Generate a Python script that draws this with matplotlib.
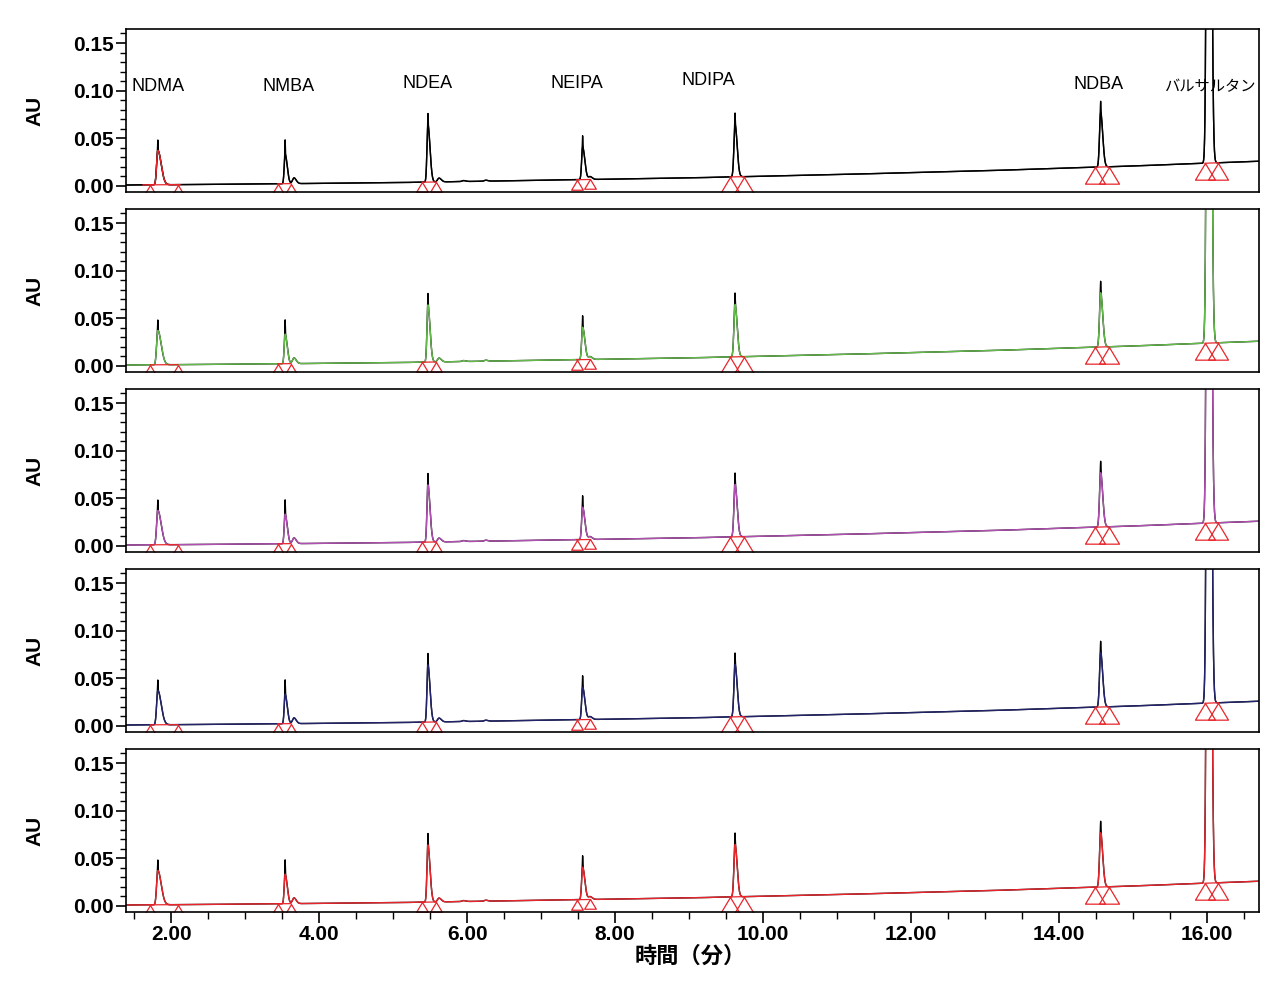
import numpy as np
import matplotlib
matplotlib.use("Agg")
import matplotlib.pyplot as plt
from matplotlib.path import Path
from matplotlib.ticker import MultipleLocator, FormatStrFormatter

plt.rcParams['font.family'] = ['Liberation Sans', 'Noto Sans CJK JP', 'DejaVu Sans']

# peaks (retention time in min, heights in AU)
names = ["NDMA", "NMBA", "NDEA", "NEIPA", "NDIPA", "NDBA", "バルサルタン"]
rt = [1.82, 3.54, 5.47, 7.56, 9.62, 14.56, 16.02]
tipHeight = [0.047, 0.046, 0.072, 0.046, 0.067, 0.069, 1.25]
bodyHeight = [0.036, 0.031, 0.060, 0.034, 0.055, 0.057, 1.20]
sigFront = [0.016, 0.012, 0.013, 0.013, 0.015, 0.015, 0.020]
sigBack = [0.045, 0.028, 0.028, 0.030, 0.028, 0.028, 0.026]

labelX = [1.82, 3.58, 5.47, 7.48, 9.26, 14.53, 16.03]
labelY = [0.104, 0.104, 0.108, 0.108, 0.111, 0.106, 0.104]
labelSize = [13, 13, 13, 13, 13, 13, 11]

# small shoulders after some peaks
shoulderRt = [3.66, 5.62, 7.66, 5.95, 6.25]
shoulderH = [0.006, 0.004, 0.003, 0.001, 0.001]

# baseline drift
baseT = [1.39, 3.0, 5.0, 7.0, 9.0, 11.0, 13.0, 15.0, 16.7]
baseY = [0.001, 0.002, 0.0035, 0.006, 0.0085, 0.012, 0.016, 0.021, 0.026]

# integration marks (start / end of each peak)
markLeft = [1.72, 3.44, 5.39, 7.48, 9.55, 14.49, 15.97]
markRight = [2.09, 3.62, 5.58, 7.66, 9.74, 14.67, 16.15]
markSize = [12, 13, 14, 14, 23, 24, 24]

colors = ["black", "#62ba48", "#b24fb2", "#22246c", "#e8252b"]
markColor = "#e8252b"

t = np.linspace(1.39, 16.7, 30000)


def peak(c, h, s1, s2):
    s = np.where(t < c, s1, s2)
    return h * np.exp(-0.5 * ((t - c) / s) ** 2)


base = np.interp(t, baseT, baseY)
body = base.copy()
spike = base.copy()
for i in range(len(rt)):
    body += peak(rt[i], bodyHeight[i], sigFront[i], sigBack[i])
    spike += peak(rt[i], bodyHeight[i], sigFront[i], sigBack[i])
    spike += peak(rt[i], tipHeight[i] - bodyHeight[i], 0.003, 0.003)
for c, h in zip(shoulderRt, shoulderH):
    body += peak(c, h, 0.02, 0.03)
    spike += peak(c, h, 0.02, 0.03)

tri = Path([(0, 0), (-0.6, -1), (0.6, -1), (0, 0)],
           [Path.MOVETO, Path.LINETO, Path.LINETO, Path.CLOSEPOLY])

fig = plt.figure(figsize=(12.8, 9.88), dpi=100)
W, H = 1280.0, 988.0
axes = []
for i in range(5):
    top = 29 + 180 * i
    bot = 192 + 180 * i
    ax = fig.add_axes([126 / W, 1 - bot / H, 1133 / W, 163 / H])
    axes.append(ax)

    ax.plot(t, spike, color="black", lw=1.0)
    ax.plot(t, body, color=colors[i], lw=1.0)
    if i == 0:
        m = (t > 1.62) & (t < 2.12)
        ax.plot(t[m], body[m], color=markColor, lw=1.0)

    for j in range(len(rt)):
        bl = np.interp(markLeft[j], baseT, baseY)
        br = np.interp(markRight[j], baseT, baseY)
        ax.plot([markLeft[j], markRight[j]], [bl, br], color=markColor, lw=0.9)
        ax.plot([markLeft[j], markRight[j]], [bl, br], ls="none", marker=tri,
                markersize=markSize[j], markerfacecolor="none",
                markeredgecolor=markColor, markeredgewidth=0.9)

    if i == 0:
        for j in range(len(names)):
            ax.text(labelX[j], labelY[j], names[j], ha="center", va="center",
                    fontsize=labelSize[j], family=['Liberation Sans', 'Noto Sans CJK JP'])

    ax.set_xlim(1.39, 16.7)
    ax.set_ylim(-0.0063, 0.1647)
    ax.yaxis.set_major_locator(MultipleLocator(0.05))
    ax.yaxis.set_minor_locator(MultipleLocator(0.01))
    ax.yaxis.set_major_formatter(FormatStrFormatter("%.2f"))
    ax.xaxis.set_major_locator(MultipleLocator(2))
    ax.xaxis.set_minor_locator(MultipleLocator(0.5))
    ax.xaxis.set_major_formatter(FormatStrFormatter("%.2f"))
    ax.tick_params(axis="y", which="major", length=7, width=1.2, labelsize=15, pad=2)
    ax.tick_params(axis="y", which="minor", length=4, width=1.0)
    ax.tick_params(axis="x", which="major", length=8, width=1.2, labelsize=15, pad=1)
    ax.tick_params(axis="x", which="minor", length=5, width=1.0)
    for lab in ax.get_yticklabels() + ax.get_xticklabels():
        lab.set_fontweight("bold")
    for sp in ax.spines.values():
        sp.set_linewidth(1.2)
    if i < 4:
        ax.tick_params(axis="x", which="both", bottom=False, labelbottom=False)

    fig.text(35 / W, 1 - (110.5 + 180 * i) / H, "AU", rotation=90,
             ha="center", va="center", fontsize=15, fontweight="bold")

fig.text(690 / W, 1 - 956 / H, "時間（分）", ha="center", va="center",
         fontsize=16, fontweight="bold", family=['Noto Sans CJK JP', 'DejaVu Sans'])

fig.savefig("out.png", dpi=100)
